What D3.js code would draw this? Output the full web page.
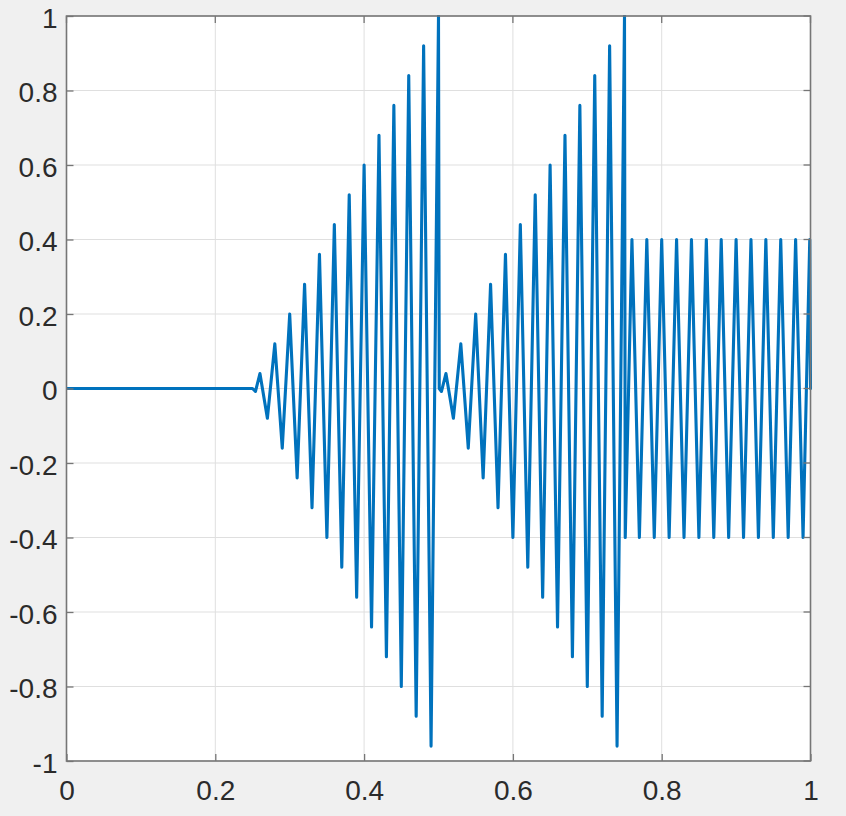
<!DOCTYPE html>
<html>
<head>
<meta charset="utf-8">
<script src="https://cdn.jsdelivr.net/npm/d3@7"></script>
<style>
  html, body { margin: 0; padding: 0; background: #f0f0f0; }
  svg { display: block; }
  .tick text { font-family: "Liberation Sans", Arial, sans-serif; }
</style>
</head>
<body>
<svg id="chart" width="846" height="816"></svg>
<script>
// ---- data (extremes of the signal) ----
const quietTime  = [0, 0.25];
const quietValue = [0, 0];

const burst1Time  = [0.25, 0.254, 0.26, 0.27, 0.28, 0.29, 0.30, 0.31, 0.32, 0.33, 0.34, 0.35, 0.36,
                     0.37, 0.38, 0.39, 0.40, 0.41, 0.42, 0.43, 0.44, 0.45, 0.46, 0.47, 0.48, 0.49, 0.50];
const burst1Value = [0, -0.008, 0.04, -0.08, 0.12, -0.16, 0.20, -0.24, 0.28, -0.32, 0.36, -0.40, 0.44,
                     -0.48, 0.52, -0.56, 0.60, -0.64, 0.68, -0.72, 0.76, -0.80, 0.84, -0.88, 0.92, -0.96, 1.00];

const burst2Time  = [0.501, 0.504, 0.51, 0.52, 0.53, 0.54, 0.55, 0.56, 0.57, 0.58, 0.59, 0.60, 0.61,
                     0.62, 0.63, 0.64, 0.65, 0.66, 0.67, 0.68, 0.69, 0.70, 0.71, 0.72, 0.73, 0.74, 0.75];
const burst2Value = [0, -0.008, 0.04, -0.08, 0.12, -0.16, 0.20, -0.24, 0.28, -0.32, 0.36, -0.40, 0.44,
                     -0.48, 0.52, -0.56, 0.60, -0.64, 0.68, -0.72, 0.76, -0.80, 0.84, -0.88, 0.92, -0.96, 1.00];

const steadyTime  = [0.751, 0.76, 0.77, 0.78, 0.79, 0.80, 0.81, 0.82, 0.83, 0.84, 0.85, 0.86, 0.87,
                     0.88, 0.89, 0.90, 0.91, 0.92, 0.93, 0.94, 0.95, 0.96, 0.97, 0.98, 0.99, 0.999, 1.0];
const steadyValue = [-0.40, 0.40, -0.40, 0.40, -0.40, 0.40, -0.40, 0.40, -0.40, 0.40, -0.40, 0.40, -0.40,
                     0.40, -0.40, 0.40, -0.40, 0.40, -0.40, 0.40, -0.40, 0.40, -0.40, 0.40, -0.40, 0.40, 0];

const xTicks = [0, 0.2, 0.4, 0.6, 0.8, 1];
const xTickLabels = ["0", "0.2", "0.4", "0.6", "0.8", "1"];
const yTicks = [-1, -0.8, -0.6, -0.4, -0.2, 0, 0.2, 0.4, 0.6, 0.8, 1];
const yTickLabels = ["-1", "-0.8", "-0.6", "-0.4", "-0.2", "0", "0.2", "0.4", "0.6", "0.8", "1"];

// ---- layout ----
const svg = d3.select("#chart");
const L = 66.5, R = 810.5, T = 16, B = 761;
const x = d3.scaleLinear().domain([0, 1]).range([L, R]);
const y = d3.scaleLinear().domain([-1, 1]).range([B, T]);

svg.append("rect").attr("x", L).attr("y", T).attr("width", R - L).attr("height", B - T)
   .attr("fill", "#ffffff");

// grid
const grid = svg.append("g");
grid.selectAll("line.gx").data(xTicks).join("line")
  .attr("x1", d => x(d)).attr("x2", d => x(d)).attr("y1", T).attr("y2", B)
  .attr("stroke", "#dfdfdf").attr("stroke-width", 1);
grid.selectAll("line.gy").data(yTicks).join("line")
  .attr("y1", d => y(d)).attr("y2", d => y(d)).attr("x1", L).attr("x2", R)
  .attr("stroke", "#dfdfdf").attr("stroke-width", 1);

// signal
const pts = [];
quietTime.forEach((t, i) => pts.push([t, quietValue[i]]));
burst1Time.slice(1).forEach((t, i) => pts.push([t, burst1Value[i + 1]]));
burst2Time.forEach((t, i) => pts.push([t, burst2Value[i]]));
steadyTime.forEach((t, i) => pts.push([t, steadyValue[i]]));

const line = d3.line().x(d => x(d[0])).y(d => y(d[1])).curve(d3.curveLinear);
svg.append("clipPath").attr("id", "clip").append("rect")
  .attr("x", L).attr("y", T - 1).attr("width", R - L + 2).attr("height", B - T + 2);
svg.append("path").datum(pts).attr("d", line)
  .attr("fill", "none").attr("stroke", "#0072bd").attr("stroke-width", 3.1)
  .attr("stroke-linejoin", "round").attr("stroke-linecap", "round")
  .attr("clip-path", "url(#clip)");

// axes
const axisColor = "#767676";
const fontSize = 28;
const xAxis = d3.axisBottom(x).tickValues(xTicks).tickFormat((d, i) => xTickLabels[i])
  .tickSizeInner(-7).tickSizeOuter(0).tickPadding(18);
const gx = svg.append("g").attr("transform", `translate(0,${B})`).call(xAxis);
const yAxis = d3.axisLeft(y).tickValues(yTicks).tickFormat((d, i) => yTickLabels[i])
  .tickSizeInner(-7).tickSizeOuter(0).tickPadding(9);
const gy = svg.append("g").attr("transform", `translate(${L},0)`).call(yAxis);

[gx, gy].forEach(g => {
  g.select(".domain").remove();
  g.selectAll(".tick line").attr("stroke", axisColor).attr("stroke-width", 1.3);
  g.selectAll(".tick text").attr("fill", "#2b2b2b").attr("font-size", fontSize)
    .attr("font-family", "'Liberation Sans', Arial, sans-serif");
});
gy.selectAll(".tick text").attr("dy", "0.41em");
gx.selectAll(".tick text").attr("dy", "0.75em");

// right/top ticks (MATLAB box)
svg.append("g").selectAll("line").data(yTicks).join("line")
  .attr("x1", R).attr("x2", R - 7).attr("y1", d => y(d)).attr("y2", d => y(d))
  .attr("stroke", axisColor).attr("stroke-width", 1.3);
svg.append("g").selectAll("line").data(xTicks).join("line")
  .attr("y1", T).attr("y2", T + 7).attr("x1", d => x(d)).attr("x2", d => x(d))
  .attr("stroke", axisColor).attr("stroke-width", 1.3);

// box
svg.append("rect").attr("x", L).attr("y", T).attr("width", R - L).attr("height", B - T)
  .attr("fill", "none").attr("stroke", axisColor).attr("stroke-width", 1.6);
</script>
</body>
</html>
